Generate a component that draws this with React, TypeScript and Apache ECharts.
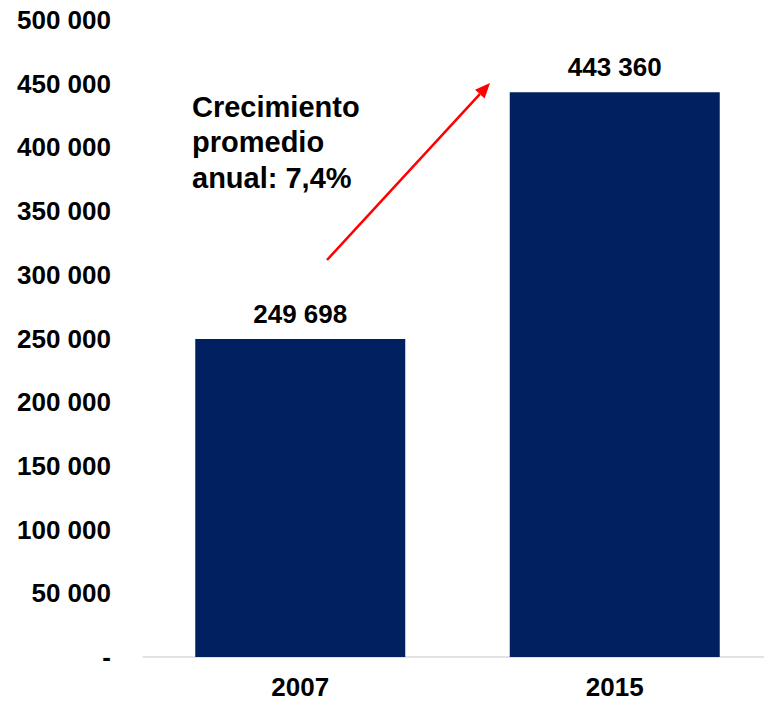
import React, { useEffect, useRef } from "react";
import * as echarts from "echarts";

const categories = ["2007", "2015"];
const values = [249698, 443360];
const yTicks = [0, 50000, 100000, 150000, 200000, 250000, 300000, 350000, 400000, 450000, 500000];
const annotationLines = ["Crecimiento", "promedio", "anual: 7,4%"];

const FONT = "'Liberation Sans', Arial, sans-serif";

function fmt(v: number): string {
  if (v === 0) return "-";
  return String(Math.round(v)).replace(/\B(?=(\d{3})+(?!\d))/g, " ");
}

export default function App() {
  const ref = useRef<HTMLDivElement>(null);
  useEffect(() => {
    if (!ref.current) return;
    const chart = echarts.init(ref.current, undefined, { renderer: "svg" });
    const tip = [490, 83];
    const dir = [0.677, -0.736];
    const hl = 15;
    const hw = 6.5;
    const base = [tip[0] - hl * dir[0], tip[1] - hl * dir[1]];
    const perp = [-dir[1], dir[0]];
    chart.setOption({
      animation: false,
      backgroundColor: "#ffffff",
      grid: { left: 143, top: 20, right: 8, bottom: 44, containLabel: false },
      xAxis: {
        type: "category",
        data: categories,
        axisLine: { show: true, lineStyle: { color: "#d9d9d9", width: 1.5 } },
        axisTick: { show: false },
        axisLabel: {
          margin: 18,
          color: "#000",
          fontSize: 26,
          lineHeight: 24,
          fontWeight: "bold",
          fontFamily: FONT,
        },
      },
      yAxis: {
        type: "value",
        min: yTicks[0],
        max: yTicks[yTicks.length - 1],
        interval: yTicks[1] - yTicks[0],
        axisLine: { show: false },
        axisTick: { show: false },
        splitLine: { show: false },
        axisLabel: {
          margin: 32,
          color: "#000",
          fontSize: 26,
          fontWeight: "bold",
          fontFamily: FONT,
          formatter: (v: number) => fmt(v),
        },
      },
      series: [
        {
          type: "bar",
          data: values,
          barWidth: 210,
          itemStyle: { color: "#002060" },
          label: {
            show: true,
            position: "top",
            distance: 12,
            color: "#000",
            fontSize: 26,
            fontWeight: "bold",
            fontFamily: FONT,
            formatter: (p: any) => fmt(p.value),
          },
        },
      ],
      graphic: [
        {
          type: "line",
          shape: { x1: 327, y1: 260, x2: base[0], y2: base[1] },
          style: { stroke: "#ff0000", lineWidth: 2.5 },
        },
        {
          type: "polygon",
          shape: {
            points: [
              tip,
              [base[0] + hw * perp[0], base[1] + hw * perp[1]],
              [base[0] - hw * perp[0], base[1] - hw * perp[1]],
            ],
          },
          style: { fill: "#ff0000" },
        },
        {
          type: "text",
          x: 192,
          y: 89,
          style: {
            text: annotationLines.join("\n"),
            fill: "#000",
            fontSize: 29,
            fontWeight: "bold",
            fontFamily: FONT,
            lineHeight: 35.5,
            textVerticalAlign: "top",
            textAlign: "left",
          },
        },
      ],
    });
    return () => chart.dispose();
  }, []);
  return (
    <div style={{ width: 764, height: 701, position: "absolute", left: 0, top: 0, overflow: "hidden" }}>
      <div ref={ref} style={{ width: 780, height: 701 }} />
    </div>
  );
}
